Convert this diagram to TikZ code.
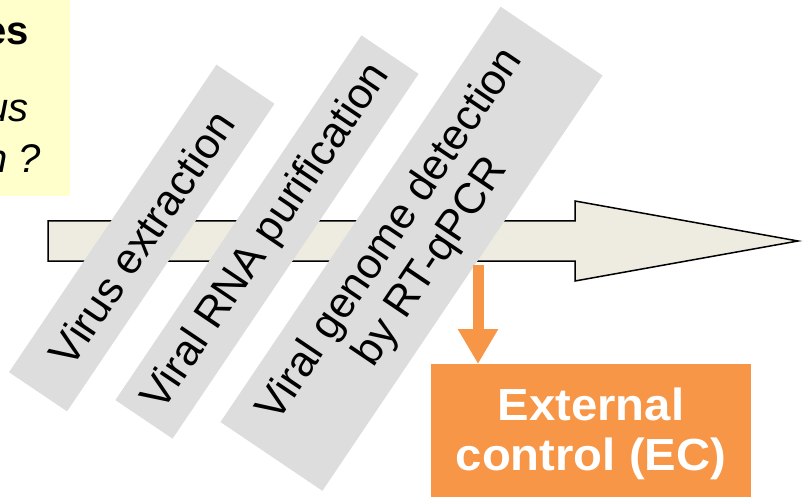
\documentclass[tikz,border=0pt]{standalone}
\usepackage{fontspec}
\setmainfont{Liberation Sans}
\newfontfamily\ecfont[FakeStretch=1.05]{Liberation Sans}
\usetikzlibrary{arrows.meta}
\definecolor{noteyellow}{HTML}{FFFFCC}
\definecolor{flowtan}{HTML}{EEECE1}
\definecolor{bannergray}{HTML}{DDDDDD}
\definecolor{ecorange}{HTML}{F79646}
\begin{document}
\begin{tikzpicture}[x=1pt,y=1pt,
  notetext/.style={anchor=base east, inner sep=0pt, font=\fontsize{40}{48}\selectfont},
  flowarrow/.style={fill=flowtan, draw=black, line width=1.5pt, line join=miter},
  banner/.style={fill=bannergray, rotate=56, inner sep=0pt, align=center,
    font=\fontsize{43}{49}\selectfont},
  ecbox/.style={fill=ecorange, text=white, inner sep=0pt, align=center,
    font=\ecfont\bfseries\fontsize{45}{50}\selectfont},
  ecarrow/.style={draw=ecorange, line width=11pt, -{Triangle[width=38pt,length=35pt]}}]
\useasboundingbox (0,0) rectangle (803,496);
\begin{scope}
\clip (0,0) rectangle (803,496);
% note box on the left
\fill[noteyellow] (-5,300) rectangle (70,501);
\node[notetext, font=\bfseries\fontsize{40}{48}\selectfont] (noteA) at (29,451) {es};
\node[notetext, font=\itshape\fontsize{40}{48}\selectfont] (noteB) at (29,374) {us};
\node[notetext, font=\itshape\fontsize{40}{48}\selectfont] (noteC) at (41,323) {n ?};
% main process arrow
\draw[flowarrow] (48,235) -- (575,235) -- (575,215) -- (798,255) -- (575,295) -- (575,275) -- (48,275) -- cycle;
% step banners
\node[banner, minimum width=371pt, minimum height=70pt] (b1) at (141.75,258) {Virus extraction};
\node[banner, minimum width=440pt, minimum height=69pt] (b2) at (267,259) {Viral RNA purification};
\node[banner, minimum width=501pt, minimum height=123pt] (b3) at (411.5,247.25) {Viral genome detection\\by RT-qPCR};
% external control
\coordinate (ecsrc) at (478,231);
\node[ecbox, anchor=north, minimum width=320pt, minimum height=139.4pt] (ec) at (591,132) {External\\control (EC)};
\draw[ecarrow] (ecsrc) -- (ecsrc |- ec.north);
\end{scope}
\end{tikzpicture}
\end{document}
